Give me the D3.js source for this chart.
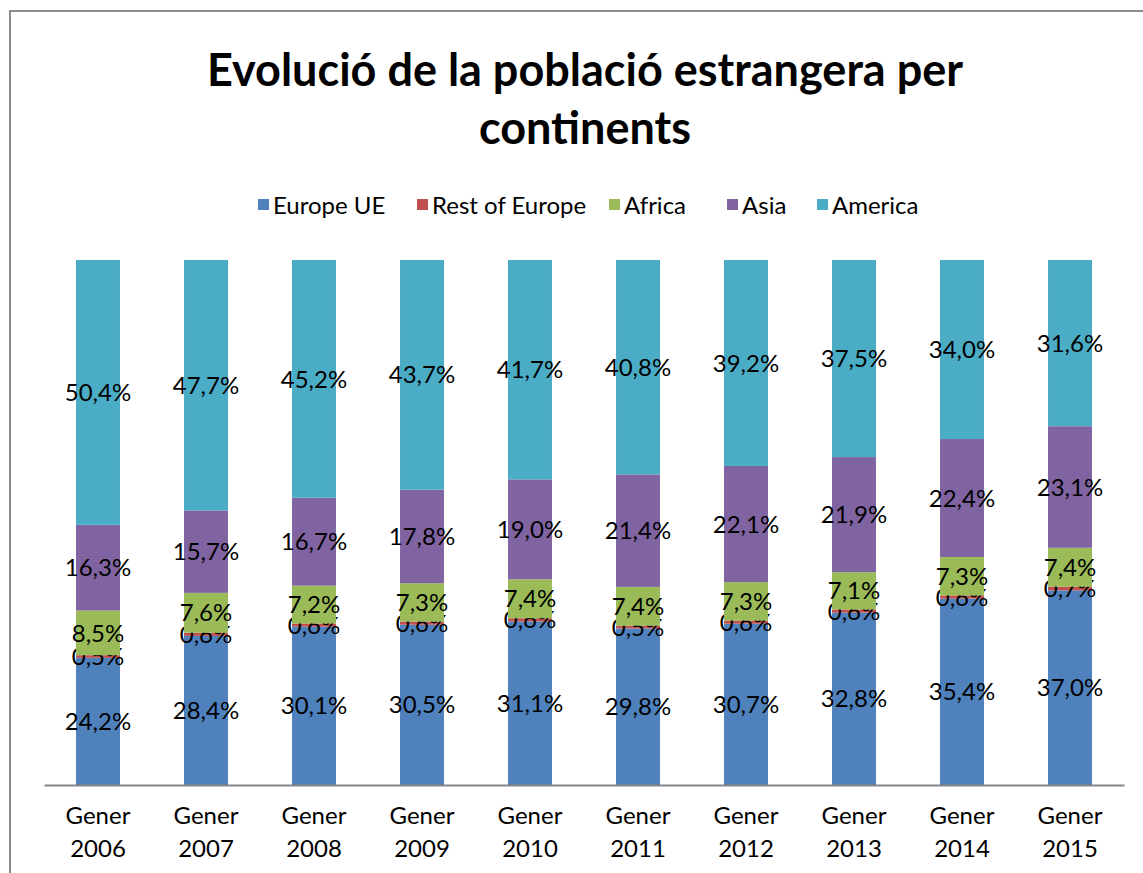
<!DOCTYPE html>
<html>
<head>
<meta charset="utf-8">
<script src="https://cdn.jsdelivr.net/npm/d3@7"></script>
<style>
  body { margin: 0; background: #fff; }
  svg { display: block; font-family: Lato, "Open Sans", sans-serif; }
</style>
</head>
<body>
<div id="chart"></div>
<script>
// chart size
const width = 1143;
const height = 873;
const margin = {left: 44, right: 19, top: 260, bottom: 88};

// data
const years = ["2006", "2007", "2008", "2009", "2010", "2011", "2012", "2013", "2014", "2015"];
const seriesNames = ["Europe UE", "Rest of Europe", "Africa", "Asia", "America"];
const europeUE   = [24.2, 28.4, 30.1, 30.5, 31.1, 29.8, 30.7, 32.8, 35.4, 37.0];
const restEurope = [0.5, 0.6, 0.6, 0.6, 0.6, 0.5, 0.6, 0.6, 0.6, 0.7];
const africa     = [8.5, 7.6, 7.2, 7.3, 7.4, 7.4, 7.3, 7.1, 7.3, 7.4];
const asia       = [16.3, 15.7, 16.7, 17.8, 19.0, 21.4, 22.1, 21.9, 22.4, 23.1];
const america    = [50.4, 47.7, 45.2, 43.7, 41.7, 40.8, 39.2, 37.5, 34.0, 31.6];
const colors = ["#4F81BD", "#C0504D", "#9BBB59", "#8064A2", "#4BACC6"];

const rows = years.map((y, i) => ({
  year: y,
  "Europe UE": europeUE[i],
  "Rest of Europe": restEurope[i],
  "Africa": africa[i],
  "Asia": asia[i],
  "America": america[i]
}));

const svg = d3.select("#chart")
  .append("svg")
  .attr("width", width)
  .attr("height", height);

// outer frame (only left and top edges visible in picture)
svg.append("path")
  .attr("d", `M10,${height} L10,11 L${width},11`)
  .attr("fill", "none")
  .attr("stroke", "#8c8c8c")
  .attr("stroke-width", 2);

// title
const title = svg.append("text")
  .attr("text-anchor", "middle")
  .attr("font-size", "45px")
  .attr("font-weight", "bold")
  .attr("fill", "#000");
title.append("tspan").attr("x", 585).attr("y", 86).text("Evolució de la població estrangera per");
title.append("tspan").attr("x", 585).attr("y", 144).text("continents");

// scales
const xScale = d3.scaleBand()
  .domain(years)
  .range([margin.left, width - margin.right])
  .paddingInner(0.593)
  .paddingOuter(0.2965);

const yScale = d3.scaleLinear()
  .domain([0, 1])
  .range([height - margin.bottom, margin.top]);

const stack = d3.stack()
  .keys(seriesNames)
  .offset(d3.stackOffsetExpand);
const stacked = stack(rows);

// bars
const groups = svg.selectAll(".series")
  .data(stacked)
  .enter()
  .append("g")
  .attr("class", "series")
  .attr("fill", (d, i) => colors[i]);

groups.selectAll("rect")
  .data(d => d)
  .enter()
  .append("rect")
  .attr("x", d => xScale(d.data.year))
  .attr("y", d => yScale(d[1]))
  .attr("width", xScale.bandwidth())
  .attr("height", d => yScale(d[0]) - yScale(d[1]));

// value labels
const fmt = d3.format(".1f");
groups.each(function(s) {
  d3.select(this).selectAll("text")
    .data(s)
    .enter()
    .append("text")
    .attr("x", d => xScale(d.data.year) + xScale.bandwidth() / 2)
    .attr("y", d => (yScale(d[0]) + yScale(d[1])) / 2)
    .attr("dy", "0.36em")
    .attr("text-anchor", "middle")
    .attr("font-size", "24px")
    .attr("fill", "#000")
    .text(d => fmt(d.data[s.key]).replace(".", ",") + "%");
});

// x axis
const xAxis = svg.append("g")
  .attr("transform", `translate(0,${height - margin.bottom})`)
  .call(d3.axisBottom(xScale).tickSize(0).tickFormat(""));
xAxis.select(".domain").attr("stroke", "#868686").attr("stroke-width", 2);

svg.selectAll(".xlabel")
  .data(years)
  .enter()
  .append("text")
  .attr("class", "xlabel")
  .attr("text-anchor", "middle")
  .attr("font-size", "24px")
  .attr("fill", "#000")
  .each(function(y) {
    const t = d3.select(this);
    const cx = xScale(y) + xScale.bandwidth() / 2;
    t.append("tspan").attr("x", cx).attr("y", 824).text("Gener");
    t.append("tspan").attr("x", cx).attr("y", 857).text(y);
  });

// legend
const legendX = [258, 417, 609, 727, 817];
const legend = svg.selectAll(".legend")
  .data(seriesNames)
  .enter()
  .append("g")
  .attr("class", "legend")
  .attr("transform", (d, i) => `translate(${legendX[i]},199)`);
legend.append("rect")
  .attr("width", 11)
  .attr("height", 11)
  .attr("fill", (d, i) => colors[i]);
legend.append("text")
  .attr("x", 15)
  .attr("y", 15)
  .attr("font-size", "24px")
  .attr("fill", "#000")
  .text(d => d);
</script>
</body>
</html>
